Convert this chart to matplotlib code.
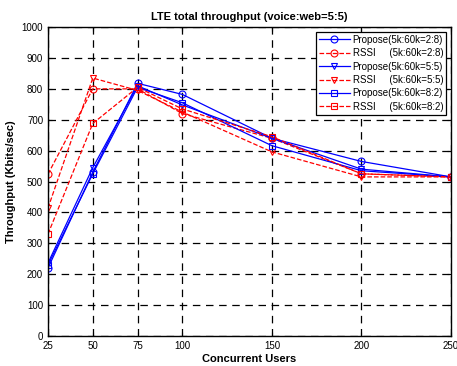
import matplotlib
matplotlib.use('Agg')
import matplotlib.pyplot as plt

users = [25, 50, 75, 100, 150, 200, 250]

propose_28 = [220, 530, 818, 782, 640, 565, 515]
rssi_28 = [524, 800, 800, 720, 640, 525, 515]
propose_55 = [236, 545, 810, 748, 640, 540, 515]
rssi_55 = [414, 835, 795, 725, 596, 515, 515]
propose_82 = [230, 525, 805, 755, 616, 535, 515]
rssi_82 = [330, 688, 805, 735, 645, 525, 515]

plt.rcParams['font.family'] = ['Liberation Sans', 'DejaVu Sans']

fig = plt.figure(figsize=(4.57, 3.66), dpi=100)
ax = fig.add_axes([0.105, 0.082, 0.882, 0.844])

ms = 5
mew = 0.8
ax.plot(users, propose_28, '-', color='blue', marker='o', mfc='none', ms=ms, mew=mew, lw=0.9,
        label='Propose(5k:60k=2:8)')
ax.plot(users, rssi_28, '--', color='red', marker='o', mfc='none', ms=ms, mew=mew, lw=0.9,
        label='RSSI     (5k:60k=2:8)')
ax.plot(users, propose_55, '-', color='blue', marker='v', mfc='none', ms=ms, mew=mew, lw=0.9,
        label='Propose(5k:60k=5:5)')
ax.plot(users, rssi_55, '--', color='red', marker='v', mfc='none', ms=ms, mew=mew, lw=0.9,
        label='RSSI     (5k:60k=5:5)')
ax.plot(users, propose_82, '-', color='blue', marker='s', mfc='none', ms=ms, mew=mew, lw=0.9,
        label='Propose(5k:60k=8:2)')
ax.plot(users, rssi_82, '--', color='red', marker='s', mfc='none', ms=ms, mew=mew, lw=0.9,
        label='RSSI     (5k:60k=8:2)')

ax.set_xlim(25, 250)
ax.set_ylim(0, 1000)
ax.set_xticks(users)
ax.set_yticks(range(0, 1001, 100))
ax.tick_params(direction='in', top=True, right=True, labelsize=7, length=3)
ax.grid(True, color='black', linestyle=(0, (6, 4.5)), linewidth=0.9)
for s in ax.spines.values():
    s.set_linewidth(1.0)

ax.set_xlabel('Concurrent Users', fontsize=8, fontweight='bold', labelpad=2)
ax.set_ylabel('Throughput (Kbits/sec)', fontsize=8, fontweight='bold')
ax.set_title('LTE total throughput (voice:web=5:5)', fontsize=8, fontweight='bold', pad=5)

leg = ax.legend(loc='upper right', fontsize=7, fancybox=False, framealpha=1,
                edgecolor='black', handlelength=3.2, borderpad=0.3,
                labelspacing=0.35, borderaxespad=0.5, handletextpad=0.3)
leg.get_frame().set_linewidth(0.9)

fig.savefig('out.png', dpi=100)
